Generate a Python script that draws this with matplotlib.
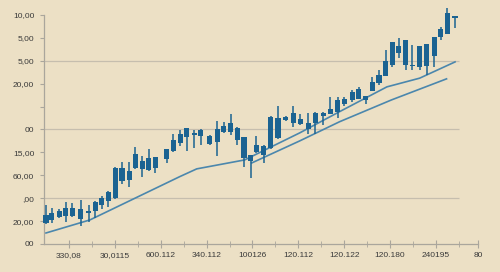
import matplotlib
matplotlib.use("Agg")
import matplotlib.pyplot as plt
import numpy as np

# candle x positions (trading day index, with small gaps)
days = [0.3, 1.2, 2.3, 3.3, 4.3, 5.6, 6.8, 7.8, 8.8, 9.8,
        10.9, 11.9, 13.0, 13.9, 15.0, 16.0, 17.0, 18.7, 19.7, 20.8,
        21.8, 22.9, 23.9, 25.3, 26.4, 27.4, 28.5, 29.5, 30.5, 31.5,
        32.4, 33.5, 34.6, 35.7, 36.9, 38.0, 39.1, 40.3, 41.4, 42.6,
        43.7, 44.8, 45.8, 47.0, 48.0, 49.1, 50.1, 51.1, 52.1, 53.1,
        54.1, 55.2, 56.2, 57.3, 58.4, 59.5, 60.5, 61.5, 62.7]

opens = [0.93, 1.05, 1.19, 1.24, 1.24, 1.09, 1.37, 1.45, 1.70, 1.88,
         2.00, 2.75, 2.79, 3.33, 3.26, 3.23, 3.31, 3.71, 4.07, 4.40,
         4.66, 4.75, 4.72, 4.37, 4.44, 4.90, 4.88, 4.54, 3.74, 3.62,
         4.03, 3.89, 4.18, 4.62, 5.41, 5.27, 5.23, 5.02, 5.27, 5.60,
         5.68, 5.78, 6.11, 6.29, 6.33, 6.30, 6.67, 7.02, 7.34, 7.82,
         8.35, 7.82, 7.77, 7.74, 7.77, 8.22, 9.05, 9.16, 9.87]
closes = [1.27, 1.34, 1.45, 1.59, 1.56, 1.52, 1.43, 1.85, 2.02, 2.28,
          3.33, 3.31, 3.20, 3.92, 3.62, 3.74, 3.79, 4.14, 4.54, 4.79,
          5.05, 4.86, 4.98, 4.72, 5.03, 5.15, 5.27, 5.08, 4.66, 3.89,
          4.32, 4.28, 5.56, 5.52, 5.53, 5.71, 5.45, 5.30, 5.74, 5.71,
          5.88, 6.29, 6.32, 6.62, 6.76, 6.45, 7.09, 7.38, 7.99, 8.83,
          8.65, 8.91, 7.83, 8.66, 8.72, 9.03, 9.39, 10.07, 9.96]
highs = [1.70, 1.57, 1.52, 1.85, 1.79, 1.92, 1.70, 1.88, 2.10, 2.33,
         3.38, 3.57, 3.59, 4.22, 3.84, 4.14, 3.80, 4.14, 4.80, 4.98,
         5.05, 4.98, 5.01, 4.76, 5.38, 5.34, 5.66, 5.12, 4.69, 3.89,
         4.72, 4.31, 5.59, 6.03, 5.57, 6.03, 5.66, 5.71, 5.75, 5.76,
         6.41, 6.42, 6.42, 6.72, 6.86, 6.46, 7.31, 7.60, 8.47, 8.83,
         8.98, 8.91, 8.69, 8.66, 8.72, 9.03, 9.49, 10.29, 9.96]
lows = [0.87, 0.92, 1.12, 0.97, 1.18, 0.79, 0.97, 1.15, 1.53, 1.60,
        1.97, 2.61, 2.50, 3.26, 2.91, 3.19, 3.11, 3.55, 4.03, 4.29,
        4.06, 4.18, 4.32, 4.32, 3.84, 4.86, 4.76, 4.32, 3.35, 2.87,
        3.96, 3.52, 4.15, 4.57, 5.37, 5.12, 5.20, 4.80, 4.80, 5.20,
        5.66, 5.50, 6.04, 6.21, 6.32, 6.10, 6.67, 6.94, 7.34, 7.74,
        8.11, 7.60, 7.60, 7.60, 7.38, 7.74, 8.91, 9.16, 9.45]

# trend lines
trend_a_x = [0.3, 7.0, 20.7, 23.3, 30.6, 39.0, 45.1, 52.3, 57.3, 62.7]
trend_a_y = [0.48, 1.05, 2.94, 3.28, 3.67, 4.85, 5.78, 6.86, 7.24, 7.95]
trend_b_x = [31.7, 39.0, 45.1, 53.0, 61.4]
trend_b_y = [3.54, 4.50, 5.34, 6.29, 7.21]

y_labels = ["00", "20,00", ",00", "60,00", "15,00", "00", "",
            "20,00", "5,00", "5,00", "10,00"]
x_labels = ["330,08", "30,0115", "600.112", "340.112", "100126",
            "120.112", "120.122", "120.180", "240195", "80"]
grid_levels = [2, 5, 8]

bg = "#ece0c5"
candle_col = "#1b6392"
line_col = "#4b87ad"
axis_col = "#aaa69c"

plt.rcParams['font.family'] = ['Liberation Sans', 'DejaVu Sans']

fig = plt.figure(figsize=(5, 2.72), dpi=100, facecolor=bg)
ax = fig.add_axes([0.088, 0.103, 0.868, 0.842], facecolor=bg)

ax.hlines(grid_levels, 0, 63.3, color="#c6beae", lw=0.9, zorder=1)

o = np.array(opens)
c = np.array(closes)
bottom = np.minimum(o, c)
height = np.maximum(np.abs(c - o), 0.06)
ax.vlines(days, lows, highs, color=candle_col, lw=1.1, zorder=3,
          clip_on=False)
bars = ax.bar(days, height, bottom=bottom, width=0.78, color=candle_col,
              zorder=4)
for b in bars:
    b.set_clip_on(False)

ax.plot(trend_a_x, trend_a_y, color=line_col, lw=1.2, zorder=2)
ax.plot(trend_b_x, trend_b_y, color=line_col, lw=1.2, zorder=2)

ax.set_xlim(0, 66.2)
ax.set_ylim(0, 10)

ax.set_yticks(range(11))
ax.set_yticklabels(y_labels)
major_x = [3.8 + 7 * k for k in range(9)] + [66.2]
ax.set_xticks(major_x)
ax.set_xticklabels(x_labels)
ax.set_xticks([0.3 + 7 * k for k in range(1, 10)], minor=True)

for s in ["top", "right"]:
    ax.spines[s].set_visible(False)
for s in ["left", "bottom"]:
    ax.spines[s].set_color(axis_col)
    ax.spines[s].set_linewidth(0.9)

ax.tick_params(axis="x", which="major", direction="inout", length=6,
               color=axis_col, labelsize=6, labelcolor="#3a3a3a", pad=3)
ax.tick_params(axis="x", which="minor", direction="inout", length=4,
               color=axis_col)
ax.tick_params(axis="y", direction="out", length=3, color=axis_col,
               labelsize=6, labelcolor="#3a3a3a", pad=4)

fig.savefig("out.png", dpi=100, facecolor=bg)
